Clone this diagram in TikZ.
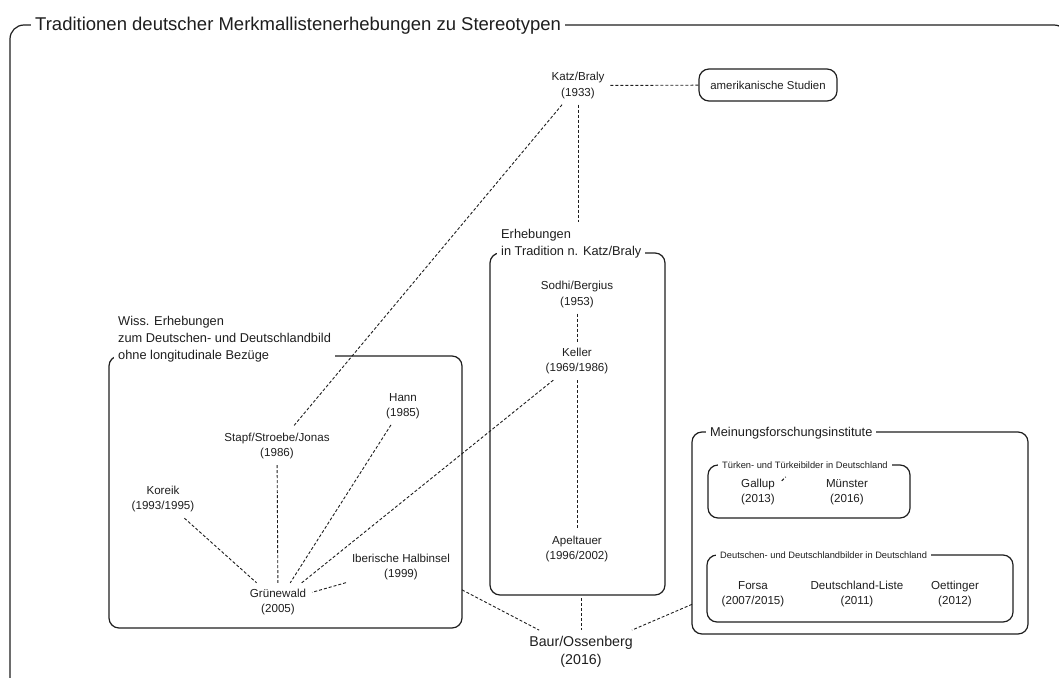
\documentclass[tikz,border=0pt]{standalone}
\usepackage{fontspec}
\setmainfont{Liberation Sans}
\usetikzlibrary{calc}
\definecolor{ink}{HTML}{1E1E1E}
\begin{document}
\begin{tikzpicture}[x=1pt,y=-1pt,
  every node/.style={text=ink},
  frame/.style={draw=ink, line width=1.2pt, rounded corners=10pt},
  groupbox/.style={frame, inner sep=0pt, outer sep=0pt},
  grouptitle/.style={fill=white, inner xsep=4pt, inner ysep=0pt, align=left,
    font=\fontsize{12.8}{17}\selectfont},
  smalltitle/.style={fill=white, inner xsep=4pt, inner ysep=0pt,
    font=\fontsize{9.3}{11}\selectfont},
  study/.style={align=center, inner sep=3pt, outer sep=3pt,
    font=\fontsize{11.6}{15.5}\selectfont},
  link/.style={draw=ink, line width=0.9pt, dash pattern=on 3pt off 2pt},
]
\useasboundingbox (0,0) rectangle (1059,677);
\clip (0,0) rectangle (1059,677);

% outer frame with its title
\draw[frame, rounded corners=14pt] (10,25) rectangle (1068,720);
\node[fill=white, inner xsep=4pt, inner ysep=0pt, anchor=base west,
  font=\fontsize{18.5}{22}\selectfont] (title) at (31,30.5)
  {Traditionen deutscher Merkmallistenerhebungen zu Stereotypen};

% group frames
\node[groupbox, minimum width=353pt, minimum height=272pt] (wiss) at (285.5,492) {};
\node[groupbox, minimum width=175pt, minimum height=342pt] (erheb) at (577.5,424) {};
\node[groupbox, minimum width=336pt, minimum height=202pt] (mein) at (860,533) {};
\node[groupbox, minimum width=202pt, minimum height=53pt] (turk) at (809,491.5) {};
\node[groupbox, minimum width=306pt, minimum height=67pt] (deut) at (860,588.5) {};
\node[groupbox, minimum width=138pt, minimum height=32pt,
  font=\fontsize{11.4}{14}\selectfont] (amer) at (768,85) {amerikanische Studien};

% group titles
\node[grouptitle, anchor=south west] (wisslabel) at (114,362.3)
  {Wiss. Erhebungen\\zum Deutschen- und Deutschlandbild\\ohne longitudinale Bezüge};
\node[grouptitle, anchor=south west] (erhlabel) at (497,258.2)
  {Erhebungen\\in Tradition n. Katz/Braly};
\node[grouptitle, anchor=base west] (meinlabel) at (706,436.5)
  {Meinungsforschungsinstitute};
\node[smalltitle, anchor=base west] (turklabel) at (718,468.3)
  {Türken- und Türkeibilder in Deutschland};
\node[smalltitle, anchor=base west] (deutlabel) at (716,558.3)
  {Deutschen- und Deutschlandbilder in Deutschland};

% studies
\node[study] (katz) at (578,85.5) {Katz/Braly\\(1933)};
\node[study] (sodhi) at (577,294.5) {Sodhi/Bergius\\(1953)};
\node[study] (keller) at (577,361) {Keller\\(1969/1986)};
\node[study] (apelt) at (577,549) {Apeltauer\\(1996/2002)};
\node[study, font=\fontsize{14.2}{18.5}\selectfont] (baur) at (581,652) {Baur/Ossenberg\\(2016)};
\node[study] (stapf) at (277,446) {Stapf/Stroebe/Jonas\\(1986)};
\node[study] (hann) at (403,406) {Hann\\(1985)};
\node[study] (koreik) at (163,499) {Koreik\\(1993/1995)};
\node[study] (grun) at (278,602) {Grünewald\\(2005)};
\node[study] (iber) at (401,567) {Iberische Halbinsel\\(1999)};
\node[study] (gallup) at (758,492) {Gallup\\(2013)};
\node[study] (muenster) at (847,492) {Münster\\(2016)};
\node[study] (forsa) at (753,594) {Forsa\\(2007/2015)};
\node[study] (dliste) at (857,594) {Deutschland-Liste\\(2011)};
\node[study] (oett) at (955,594) {Oettinger\\(2012)};

% connections
\draw[link] (katz) -- (amer);
\draw[link, shorten >=7pt] (katz.south) -- (katz.south |- erhlabel.north);
\draw[link] (katz) -- (stapf);
\draw[link] (sodhi) -- (keller);
\draw[link] (keller) -- (apelt);
\draw[link] (keller) -- (grun);
\draw[link] (stapf) -- (grun);
\draw[link] (hann) -- (grun);
\draw[link] (koreik) -- (grun);
\draw[link] (iber) -- (grun);
\draw[link, shorten <=3pt] (baur.north |- erheb.south) -- (baur.north);
\draw[link] (wiss.-29) -- (baur);
\draw[link] (mein.-157) -- (baur);
\draw[link] ([shift={(1,8)}]gallup.north east) -- ++(4,-4);
\end{tikzpicture}
\end{document}
